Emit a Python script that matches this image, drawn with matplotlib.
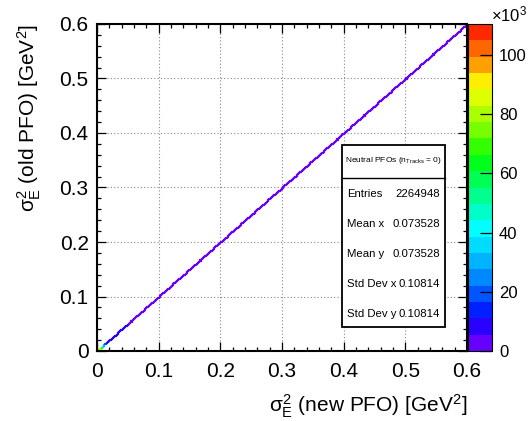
import numpy as np
import matplotlib
matplotlib.use("Agg")
import matplotlib.pyplot as plt
from matplotlib.colors import ListedColormap, BoundaryNorm
from matplotlib.patches import Rectangle
from matplotlib.ticker import MultipleLocator, FixedLocator, FixedFormatter

plt.rcParams["font.family"] = ["Liberation Sans", "DejaVu Sans"]
plt.rcParams["mathtext.fontset"] = "custom"
plt.rcParams["mathtext.rm"] = "Liberation Sans"
plt.rcParams["mathtext.it"] = "Liberation Sans"
plt.rcParams["mathtext.bf"] = "Liberation Sans:bold"

# sigma_E^2 new vs old PFO, neutral PFOs only: every entry sits on the diagonal
n_bins = 300
axis_range = (0.0, 0.6)
# counts of the first diagonal bins (near the origin)
low_bin_counts = [110500, 95000, 80000, 62000, 45000, 32000, 20000, 13000]
# the rest of the diagonal, piecewise: upper edge of each stretch and its bin count
tail_edges = [0.016, 0.05, 0.6]
tail_counts = [8000, 3500]

stats_title = r"Neutral PFOs (n$_{\mathrm{Tracks}}$ = 0)"
stats_labels = ["Entries", "Mean x", "Mean y", "Std Dev x", "Std Dev y"]
stats_values = ["2264948", "0.073528", "0.073528", "0.10814", "0.10814"]

z_ticks = [0, 20000, 40000, 60000, 80000, 100000]
z_ticklabels = ["0", "20", "40", "60", "80", "100"]

# 20 contour colours, violet -> red
palette = ["#6600ff", "#2a00ff", "#0020ff", "#0055ff", "#0088ff", "#00b4ff",
           "#00dcff", "#00ffff", "#00ffc8", "#00ff90", "#00ff55", "#00ff1a",
           "#33ff00", "#77ff00", "#aaff00", "#ddff00", "#ffee00", "#ffa000",
           "#ff6600", "#ff2800"]

edges = np.linspace(axis_range[0], axis_range[1], n_bins + 1)
hist = np.zeros((n_bins, n_bins))
for i in range(n_bins):
    if i < len(low_bin_counts):
        c = low_bin_counts[i]
    else:
        centre = 0.5 * (edges[i] + edges[i + 1])
        seg = np.searchsorted(tail_edges, centre) - 1
        c = tail_counts[min(max(seg, 0), len(tail_counts) - 1)]
    hist[i, i] = c
hist = np.ma.masked_equal(hist, 0)

zmax = hist.max()
levels = np.linspace(0, zmax, len(palette) + 1)
cmap = ListedColormap(palette)
norm = BoundaryNorm(levels, cmap.N)

W, H = 528, 421
fig = plt.figure(figsize=(W / 100, H / 100), dpi=100)

def fx(px):
    return px / W

def fy(py):
    return 1 - py / H

ax_l, ax_r, ax_t, ax_b = 97, 467, 24, 351
ax = fig.add_axes([fx(ax_l), fy(ax_b), fx(ax_r - ax_l), (ax_b - ax_t) / H])
mesh = ax.pcolormesh(edges, edges, hist.T, cmap=cmap, norm=norm,
                     edgecolors="face", linewidth=0.9, antialiased=True, rasterized=True)
ax.set_xlim(axis_range)
ax.set_ylim(axis_range)

for a in (ax.xaxis, ax.yaxis):
    a.set_major_locator(MultipleLocator(0.1))
    a.set_minor_locator(MultipleLocator(0.02))
ax.xaxis.set_major_formatter(plt.FuncFormatter(lambda v, p: "0" if abs(v) < 1e-9 else f"{v:.1f}"))
ax.yaxis.set_major_formatter(plt.FuncFormatter(lambda v, p: "0" if abs(v) < 1e-9 else f"{v:.1f}"))
ax.tick_params(which="both", direction="in", top=True, right=True, width=0.9, colors="black")
ax.tick_params(which="major", length=6.5)
ax.tick_params(which="minor", length=3.2)
ax.tick_params(axis="x", which="major", labelsize=15, pad=8)
ax.tick_params(axis="y", which="major", labelsize=15, pad=6)
ax.grid(True, which="major", linestyle=(0, (1, 2)), color="#888888", linewidth=0.8)
ax.set_axisbelow(True)
for s in ax.spines.values():
    s.set_linewidth(1.5)

ax.set_xlabel(r"$\sigma^2_{\mathrm{E}}$ (new PFO) [GeV$^2$]", fontsize=15, loc="right")
ax.set_ylabel(r"$\sigma^2_{\mathrm{E}}$ (old PFO) [GeV$^2$]", fontsize=15, loc="top")
ax.xaxis.set_label_coords(1.0, -0.128)
ax.yaxis.set_label_coords(-0.145, 1.0)

# palette axis
cax = fig.add_axes([fx(468), fy(ax_b), fx(492 - 468), (ax_b - ax_t) / H])
cb = fig.colorbar(mesh, cax=cax)
cb.outline.set_linewidth(0.8)
cax.yaxis.set_major_locator(FixedLocator(z_ticks))
cax.yaxis.set_major_formatter(FixedFormatter(z_ticklabels))
cax.minorticks_off()
cax.tick_params(direction="in", length=8.5, width=0.9, labelsize=12, pad=5)
fig.text(fx(491), fy(14), r"$\times$10$^3$", fontsize=12, ha="left", va="center")

# statistics box
bx_l, bx_r, bx_t, bx_b = 342, 445, 145, 327
box = Rectangle((fx(bx_l), fy(bx_b)), fx(bx_r - bx_l), (bx_b - bx_t) / H,
                transform=fig.transFigure, facecolor="white", edgecolor="black",
                linewidth=1.3, zorder=5)
fig.add_artist(box)
fig.add_artist(plt.Line2D([fx(bx_l), fx(bx_r)], [fy(178), fy(178)],
                          transform=fig.transFigure, color="black", linewidth=1.0, zorder=6))
fig.text(fx((bx_l + bx_r) / 2), fy(161), stats_title, fontsize=6, ha="center", va="center", zorder=7)
row_y = [194, 224, 254, 284, 314]
for lab, val, y in zip(stats_labels, stats_values, row_y):
    fig.text(fx(bx_l + 5), fy(y), lab, fontsize=8.2, ha="left", va="center", zorder=7)
    fig.text(fx(bx_r - 5), fy(y), val, fontsize=8.2, ha="right", va="center", zorder=7)

fig.savefig("out.png", dpi=100)
